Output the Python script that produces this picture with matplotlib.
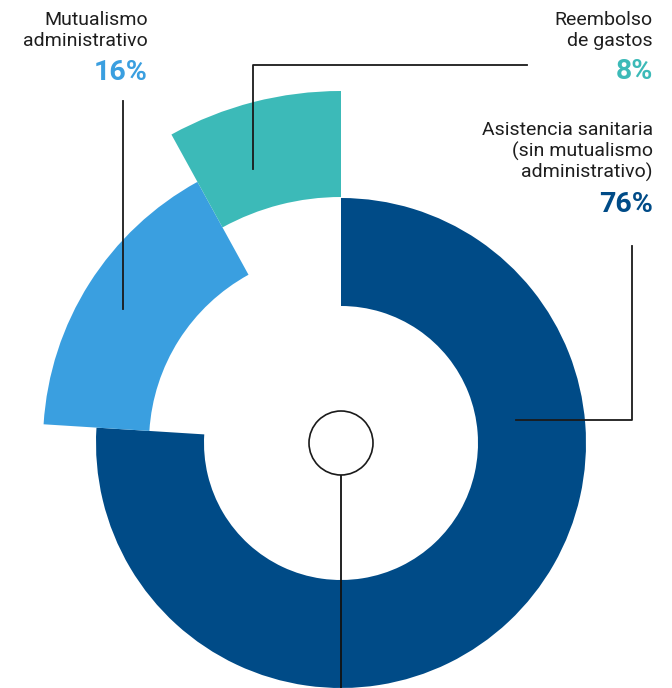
import matplotlib
matplotlib.use("Agg")
import matplotlib.pyplot as plt
from matplotlib.patches import Wedge, Circle

# datos
categorias = ["Asistencia sanitaria\n(sin mutualismo\nadministrativo)",
              "Mutualismo\nadministrativo",
              "Reembolso\nde gastos"]
porcentajes = [76, 16, 8]
etiquetas = ["76%", "16%", "8%"]
colores = ["#004b87", "#3a9fe0", "#3cbab8"]

# radios (interior, exterior) de cada anillo, en pixeles
radios = [(137, 245), (192, 298), (246, 352)]

plt.rcParams["font.family"] = ["Roboto", "DejaVu Sans"]

fig = plt.figure(figsize=(6.72, 6.88), dpi=100)
ax = fig.add_axes([0, 0, 1, 1])
ax.set_xlim(-341, 331)
ax.set_ylim(-245, 443)
ax.set_aspect("equal")
ax.axis("off")


def px(x, y):
    # pasa coordenadas de pixel de la imagen a coordenadas del eje
    return x - 341, 443 - y


# sectores, en sentido horario desde las 12
angulo = 90.0
total = sum(porcentajes)
for p, c, (r_in, r_out) in zip(porcentajes, colores, radios):
    barrido = 360.0 * p / total
    w = Wedge((0, 0), r_out, angulo - barrido, angulo, width=r_out - r_in,
              facecolor=c, edgecolor="none")
    ax.add_patch(w)
    angulo -= barrido

# circulo central y linea vertical
ax.add_patch(Circle((0, 0), 32, facecolor="white", edgecolor="#1a1a1a", lw=1.2, zorder=5))
ax.plot(*zip(px(341, 475), px(341, 688)), color="#111111", lw=1.3, zorder=4)

# lineas guia
guias = [
    [(123, 101), (123, 309)],
    [(527, 65), (253, 65), (253, 169)],
    [(632, 246), (632, 420), (516, 420)],
]
for g in guias:
    xs, ys = zip(*[px(x, y) for x, y in g])
    ax.plot(xs, ys, color="#1a1a1a", lw=1.3, zorder=4)

# textos
texto_color = "#1e1e1e"
bloques = [
    # (x derecha, baselines de lineas, baseline del porcentaje, indice)
    (148, [25, 46], 80, 1),
    (653, [25, 46], 79, 2),
    (653, [135, 157, 178], 212, 0),
]
for xr, bases, base_pct, i in bloques:
    for linea, yb in zip(categorias[i].split("\n"), bases):
        ax.text(*px(xr, yb), linea, ha="right", va="baseline",
                fontsize=14, color=texto_color)
    ax.text(*px(xr, base_pct), etiquetas[i], ha="right", va="baseline",
            fontsize=20.5, fontweight="bold", color=colores[i])

fig.savefig("out.png", dpi=100)
